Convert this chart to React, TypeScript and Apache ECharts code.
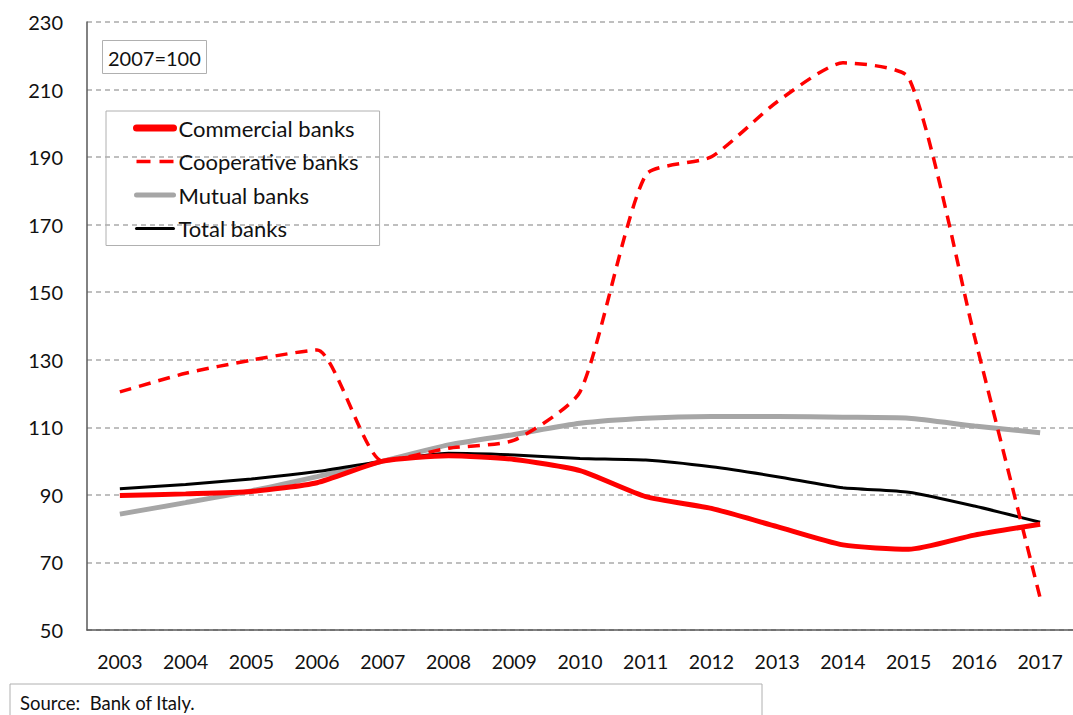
import React, { useEffect, useRef } from "react";
import * as echarts from "echarts";

const years = ["2003","2004","2005","2006","2007","2008","2009","2010","2011","2012","2013","2014","2015","2016","2017"];
const commercial = [89.8, 90.3, 91.0, 93.6, 100, 101.6, 100.5, 97.2, 89.5, 86.0, 80.6, 75.2, 73.9, 78.1, 81.3];
const cooperative = [120.5, 126.0, 129.9, 132.9, 100, 103.8, 106.2, 120.5, 184.7, 190.1, 206.4, 217.9, 213.5, 137.0, 59.5];
const mutual = [84.3, 87.7, 91.2, 95.4, 100, 104.8, 107.9, 111.2, 112.7, 113.2, 113.2, 113.0, 112.7, 110.4, 108.4];
const total = [91.8, 93.1, 94.7, 96.9, 100, 102.3, 101.8, 100.8, 100.3, 98.3, 95.4, 92.1, 90.8, 86.7, 81.9];
const seriesNames = ["Commercial banks", "Cooperative banks", "Mutual banks", "Total banks"];
const baseNote = "2007=100";
const sourceNote = "Source:  Bank of Italy.";

const FONT = "Lato";

export default function App() {
  const ref = useRef<HTMLDivElement>(null);
  useEffect(() => {
    if (!ref.current) return;
    const chart = echarts.init(ref.current, undefined, { renderer: "svg" });
    chart.setOption({
      animation: false,
      textStyle: { fontFamily: FONT },
      grid: { left: 87, top: 22, width: 989, height: 608, containLabel: false },
      title: {
        text: baseNote,
        left: 102,
        top: 40,
        padding: [7, 6, 6, 6],
        borderColor: "#b0b0b0",
        borderWidth: 1,
        textStyle: { fontFamily: FONT, fontSize: 20, fontWeight: "normal", color: "#111", lineHeight: 21 },
      },
      legend: {
        orient: "vertical",
        left: 106,
        top: 111,
        padding: [6, 21, 6, 27],
        itemGap: 11.5,
        itemWidth: 37,
        itemHeight: 22,
        itemTextGap: 10,
        borderColor: "#b0b0b0",
        borderWidth: 1,
        itemStyle: { opacity: 0 },
        data: [
          { name: seriesNames[0], lineStyle: { width: 7, cap: "round" } },
          { name: seriesNames[1], lineStyle: { width: 3.5, type: [14, 9] } },
          { name: seriesNames[2], lineStyle: { width: 5, cap: "round" } },
          { name: seriesNames[3], lineStyle: { width: 3, cap: "round" } },
        ],
        textStyle: { fontFamily: FONT, fontSize: 22, color: "#111" },
      },
      xAxis: {
        type: "category",
        data: years,
        boundaryGap: true,
        axisLine: { lineStyle: { color: "#595959", width: 1.5 } },
        axisTick: { show: false },
        axisLabel: { fontFamily: FONT, fontSize: 19.5, color: "#111", margin: 21 },
        splitLine: { show: false },
      },
      yAxis: {
        type: "value",
        min: 50,
        max: 230,
        interval: 20,
        axisLine: { show: true, lineStyle: { color: "#595959", width: 1.5 } },
        axisTick: { show: false },
        axisLabel: { fontFamily: FONT, fontSize: 20, color: "#111", margin: 24 },
        splitLine: { show: true, lineStyle: { color: "#ababab", width: 1.5, type: [5, 4] } },
      },
      series: [
        {
          name: seriesNames[2],
          type: "line",
          data: mutual,
          symbol: "none",
          smooth: 0.2,
          z: 2,
          lineStyle: { color: "#a6a6a6", width: 5 },
          itemStyle: { color: "#a6a6a6" },
        },
        {
          name: seriesNames[3],
          type: "line",
          data: total,
          symbol: "none",
          smooth: 0.2,
          z: 3,
          lineStyle: { color: "#000000", width: 3 },
          itemStyle: { color: "#000000" },
        },
        {
          name: seriesNames[0],
          type: "line",
          data: commercial,
          symbol: "none",
          smooth: 0.2,
          z: 4,
          lineStyle: { color: "#ff0000", width: 5 },
          itemStyle: { color: "#ff0000" },
        },
        {
          name: seriesNames[1],
          type: "line",
          data: cooperative,
          symbol: "none",
          smooth: 0.2,
          z: 5,
          lineStyle: { color: "#ff0000", width: 3.5, type: [12, 8] },
          itemStyle: { color: "#ff0000" },
        },
      ],
      graphic: [
        {
          type: "rect",
          shape: { x: 10, y: 684, width: 752, height: 40 },
          style: { fill: "#fff", stroke: "#b0b0b0", lineWidth: 1 },
        },
        {
          type: "text",
          x: 20,
          y: 693,
          style: { text: sourceNote, fontFamily: FONT, fontSize: 18.5, fill: "#111" },
        },
      ],
    });
    return () => chart.dispose();
  }, []);
  return (
    <div
      ref={ref}
      style={{ position: "fixed", left: 0, top: 0, width: 1073, height: 715, background: "#fff" }}
    />
  );
}
